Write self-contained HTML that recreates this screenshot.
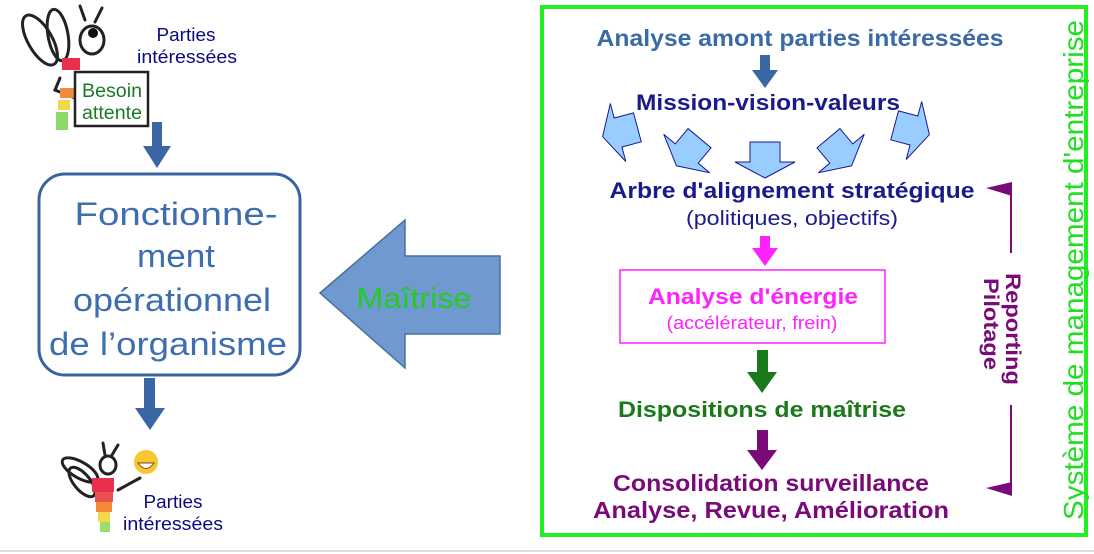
<!DOCTYPE html>
<html><head><meta charset="utf-8"><style>
html,body{margin:0;padding:0;background:#fff;}
svg{display:block;font-family:"Liberation Sans",Arial,sans-serif;}
</style></head><body>
<svg width="1094" height="554" viewBox="0 0 1094 554" xmlns="http://www.w3.org/2000/svg">
<defs>
<polygon id="ba" points="-15,-18 15,-18 15,2 30,2 0,18 -30,2 -15,2" fill="#99ccff" stroke="#1a1a8a" stroke-width="1"/>
</defs>
<rect x="0" y="0" width="1094" height="554" fill="#fff"/>
<line x1="0" y1="551" x2="1094" y2="551" stroke="#ddd" stroke-width="2"/>

<g fill="none" stroke="#222" stroke-width="3" stroke-linecap="round">
<ellipse cx="40" cy="40" rx="12" ry="28" transform="rotate(-30 40 40)"/>
<ellipse cx="58" cy="35" rx="10" ry="26" transform="rotate(-10 58 35)"/>
<ellipse cx="92" cy="40" rx="12" ry="14"/>
<path d="M85 20 L80 6 M95 22 L102 8"/>
<path d="M60 78 L55 90 L75 98"/>
</g>
<circle cx="93" cy="33" r="5" fill="#111"/>
<rect x="62" y="58" width="18" height="12" fill="#e8304a"/>
<rect x="60" y="88" width="14" height="10" fill="#f28a3a"/>
<rect x="58" y="100" width="12" height="10" fill="#f4d84a"/>
<rect x="56" y="112" width="12" height="18" fill="#8ed86a"/>
<rect x="75" y="72" width="73" height="54" fill="#fff" stroke="#222" stroke-width="2.5"/>
<text x="112" y="97" font-size="19" fill="#1a7a2a" text-anchor="middle" textLength="60" lengthAdjust="spacingAndGlyphs">Besoin</text>
<text x="112" y="119" font-size="19" fill="#1a7a2a" text-anchor="middle" textLength="60" lengthAdjust="spacingAndGlyphs">attente</text>
<text x="186" y="41" font-size="18" fill="#0a0a80" text-anchor="middle" textLength="59" lengthAdjust="spacingAndGlyphs">Parties</text>
<text x="187" y="63" font-size="18" fill="#0a0a80" text-anchor="middle" textLength="100" lengthAdjust="spacingAndGlyphs">intéressées</text>

<polygon points="152,122 162,122 162,146 171,146 157,168 143,146 152,146" fill="#3a66a6"/>

<rect x="39" y="174" width="261" height="201" rx="26" fill="#fff" stroke="#3a64a0" stroke-width="3"/>
<g font-size="32" fill="#3d6eb0" text-anchor="middle">
<text x="176" y="225" textLength="203" lengthAdjust="spacingAndGlyphs">Fonctionne-</text>
<text x="176" y="267" textLength="78" lengthAdjust="spacingAndGlyphs">ment</text>
<text x="172" y="311" textLength="198" lengthAdjust="spacingAndGlyphs">opérationnel</text>
<text x="168" y="355" textLength="238" lengthAdjust="spacingAndGlyphs">de l’organisme</text>
</g>

<polygon points="144,378 155,378 155,408 165,408 150,430 135,408 144,408" fill="#3a66a6"/>

<g fill="none" stroke="#222" stroke-width="3" stroke-linecap="round">
<ellipse cx="80" cy="470" rx="8" ry="20" transform="rotate(-60 80 470)"/>
<ellipse cx="82" cy="482" rx="8" ry="18" transform="rotate(-40 82 482)"/>
<ellipse cx="108" cy="465" rx="8" ry="9"/>
<path d="M105 455 L103 443 M112 455 L118 445 M118 490 L140 478"/>
</g>
<rect x="92" y="478" width="22" height="14" fill="#e8304a"/>
<rect x="95" y="492" width="18" height="10" fill="#e85050"/>
<rect x="96" y="502" width="16" height="10" fill="#f28a3a"/>
<rect x="98" y="512" width="12" height="10" fill="#f4d84a"/>
<rect x="100" y="522" width="10" height="10" fill="#9ade6a"/>
<circle cx="146" cy="462" r="12" fill="#f7c631"/>
<path d="M138 463 Q146 474 154 463 Z" fill="#fff" stroke="#7a4a10"/>
<text x="173" y="508" font-size="18" fill="#0a0a80" text-anchor="middle" textLength="59" lengthAdjust="spacingAndGlyphs">Parties</text>
<text x="173" y="530" font-size="18" fill="#0a0a80" text-anchor="middle" textLength="100" lengthAdjust="spacingAndGlyphs">intéressées</text>

<polygon points="320,293 405,220 405,256 500,256 500,334 405,334 405,368" fill="#7099cf" stroke="#4a6fa0" stroke-width="1.5"/>
<text x="414" y="308" font-size="29" fill="#22cc22" text-anchor="middle" textLength="115" lengthAdjust="spacingAndGlyphs">Maîtrise</text>

<rect x="542" y="7" width="544" height="528" fill="none" stroke="#22ee22" stroke-width="4"/>
<text transform="translate(1083,270) rotate(-90)" font-size="28" fill="#22dd22" text-anchor="middle" textLength="500" lengthAdjust="spacingAndGlyphs">Système de management d'entreprise</text>

<text x="800" y="46" font-size="23" font-weight="bold" fill="#3a6aa8" text-anchor="middle" textLength="407" lengthAdjust="spacingAndGlyphs">Analyse amont parties intéressées</text>
<polygon points="760,55 770,55 770,70 778,70 765,88 752,70 760,70" fill="#3a66a6"/>
<text x="768" y="110" font-size="22" font-weight="bold" fill="#1a1a8a" text-anchor="middle" textLength="264" lengthAdjust="spacingAndGlyphs">Mission-vision-valeurs</text>

<use href="#ba" transform="translate(620,132) rotate(75)"/>
<use href="#ba" transform="translate(688,152) rotate(40)"/>
<use href="#ba" transform="translate(765,160)"/>
<use href="#ba" transform="translate(840,152) rotate(-40)"/>
<use href="#ba" transform="translate(912,130) rotate(-75)"/>

<text x="792" y="198" font-size="22" font-weight="bold" fill="#1a1a8a" text-anchor="middle" textLength="365" lengthAdjust="spacingAndGlyphs">Arbre d'alignement stratégique</text>
<text x="792" y="225" font-size="20" fill="#1a1a8a" text-anchor="middle" textLength="212" lengthAdjust="spacingAndGlyphs">(politiques, objectifs)</text>
<polygon points="760,236 770,236 770,248 778,248 765,266 752,248 760,248" fill="#ff22ff"/>
<rect x="620" y="270" width="265" height="73" fill="#fff" stroke="#ff22ff" stroke-width="1.5"/>
<text x="753" y="304" font-size="22" font-weight="bold" fill="#ff22ff" text-anchor="middle" textLength="210" lengthAdjust="spacingAndGlyphs">Analyse d'énergie</text>
<text x="752" y="329" font-size="18" fill="#ff22ff" text-anchor="middle" textLength="171" lengthAdjust="spacingAndGlyphs">(accélérateur, frein)</text>
<polygon points="757,350 768,350 768,372 777,372 762,393 747,372 757,372" fill="#1a7a1a"/>
<text x="762" y="417" font-size="22" font-weight="bold" fill="#1a7a1a" text-anchor="middle" textLength="288" lengthAdjust="spacingAndGlyphs">Dispositions de maîtrise</text>
<polygon points="757,430 768,430 768,450 777,450 762,470 747,450 757,450" fill="#7a0a7a"/>
<text x="771" y="491" font-size="23" font-weight="bold" fill="#7a0a7a" text-anchor="middle" textLength="316" lengthAdjust="spacingAndGlyphs">Consolidation surveillance</text>
<text x="771" y="518" font-size="23" font-weight="bold" fill="#7a0a7a" text-anchor="middle" textLength="356" lengthAdjust="spacingAndGlyphs">Analyse,  Revue, Amélioration</text>

<polygon points="986,188 1012,182 1012,196" fill="#7a0a7a"/>
<line x1="1011" y1="186" x2="1011" y2="253" stroke="#7a0a7a" stroke-width="2"/>
<line x1="1011" y1="405" x2="1011" y2="488" stroke="#7a0a7a" stroke-width="2"/>
<polygon points="986,488 1012,482 1012,496" fill="#7a0a7a"/>
<g font-size="21" font-weight="bold" fill="#7a0a7a" text-anchor="middle">
<text transform="translate(1006,329) rotate(90)" textLength="112" lengthAdjust="spacingAndGlyphs">Reporting</text>
<text transform="translate(984,324) rotate(90)" textLength="92" lengthAdjust="spacingAndGlyphs">Pilotage</text>
</g>
</svg>
</body></html>
